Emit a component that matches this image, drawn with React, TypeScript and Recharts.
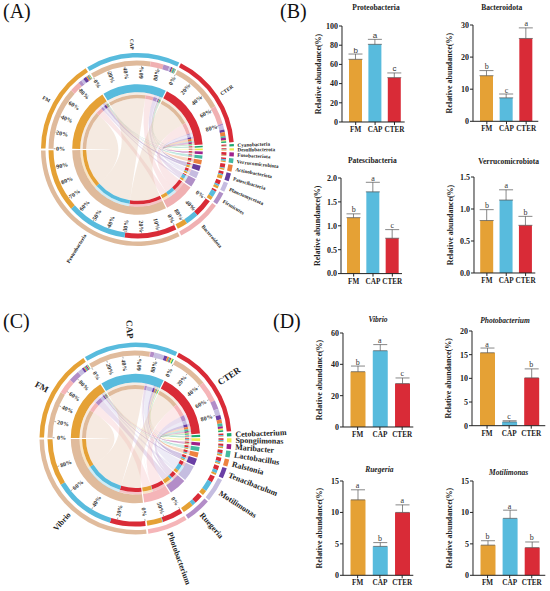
import { Bar, Cell, ComposedChart, ErrorBar, LabelList, Line, Pie, PieChart, XAxis, YAxis } from "recharts";

const SERIF = "'Liberation Serif', serif";
const SANS = "'Liberation Sans', sans-serif";

// ---- bar panels ----
const GROUPS = ["FM", "CAP", "CTER"];
const GROUP_COLORS = ["#e5a135", "#58bbdd", "#d92b37"];

const proteoValues = [65.3, 80.9, 46.2];
const proteoErrors = [5.5, 5.2, 4.9];
const proteoLetters = ["b", "a", "c"];
const bacteroValues = [14.2, 7.3, 25.8];
const bacteroErrors = [1.6, 1.2, 3.3];
const bacteroLetters = ["b", "c", "a"];
const patesciValues = [1.17, 1.71, 0.74];
const patesciErrors = [0.08, 0.2, 0.18];
const patesciLetters = ["b", "a", "c"];
const verrucoValues = [0.82, 1.14, 0.745];
const verrucoErrors = [0.17, 0.16, 0.14];
const verrucoLetters = ["b", "a", "b"];
const vibrioValues = [35.3, 48.7, 27.7];
const vibrioErrors = [3.6, 3.9, 3.6];
const vibrioLetters = ["b", "a", "c"];
const photoValues = [15.4, 0.8, 10.1];
const photoErrors = [1, 0.25, 1.9];
const photoLetters = ["a", "c", "b"];
const ruegeriaValues = [12, 4.6, 10];
const ruegeriaErrors = [1.6, 0.6, 1.2];
const ruegeriaLetters = ["a", "b", "a"];
const motilValues = [4.8, 9.06, 4.4];
const motilErrors = [0.7, 1.3, 0.9];
const motilLetters = ["b", "a", "b"];

const BAR_PANELS = [
  { title: "Proteobacteria", values: proteoValues, errors: proteoErrors, letters: proteoLetters, letterFont: SANS, ticks: [0, 20, 40, 60, 80, 100], axisX: 342.3, y0: 121.7, yTop: 25.7, xEnd: 405, pad: [4, 0.5], bar: 13, titleX: 376, titleY: 8 },
  { title: "Bacteroidota", values: bacteroValues, errors: bacteroErrors, letters: bacteroLetters, ticks: [0, 10, 20, 30], axisX: 472.7, y0: 121, yTop: 24.7, xEnd: 538, pad: [4, 2.3], bar: 13, titleX: 501.7, titleY: 8 },
  { title: "Patescibacteria", values: patesciValues, errors: patesciErrors, letters: patesciLetters, ticks: [0, 0.5, 1, 1.5, 2], fixed: 1, axisX: 340.7, y0: 273.3, yTop: 177.7, xEnd: 401.7, pad: [3, 0], bar: 13, titleX: 372.3, titleY: 161 },
  { title: "Verrucomicrobiota", values: verrucoValues, errors: verrucoErrors, letters: verrucoLetters, ticks: [0, 0.5, 1, 1.5], fixed: 1, axisX: 473.7, y0: 273.3, yTop: 177.3, xEnd: 535, pad: [3.2, 0], bar: 13, titleX: 508.7, titleY: 162 },
  { title: "Vibrio", italic: true, values: vibrioValues, errors: vibrioErrors, letters: vibrioLetters, ticks: [0, 20, 40, 60], axisX: 342.7, y0: 426.7, yTop: 332.7, xEnd: 413, pad: [3.5, 0], bar: 15, titleX: 378, titleY: 320 },
  { title: "Photobacterium", italic: true, values: photoValues, errors: photoErrors, letters: photoLetters, ticks: [0, 5, 10, 15, 20], axisX: 471.7, y0: 426, yTop: 331.3, xEnd: 545, pad: [4, 3], bar: 15, titleX: 505, titleY: 321 },
  { title: "Ruegeria", italic: true, values: ruegeriaValues, errors: ruegeriaErrors, letters: ruegeriaLetters, ticks: [0, 5, 10, 15], axisX: 342.7, y0: 575, yTop: 480.7, xEnd: 413, pad: [3.5, 0], bar: 15, titleX: 379.3, titleY: 469.7 },
  { title: "Motilimonas", italic: true, values: motilValues, errors: motilErrors, letters: motilLetters, ticks: [0, 5, 10, 15], axisX: 472.7, y0: 575, yTop: 480.7, xEnd: 545, pad: [3.5, 2.5], bar: 15, titleX: 508.7, titleY: 472.7 },
];

// ---- chord panels: rows are FM, CAP, CTER, columns follow the item names ----
const phylaNames = ["Proteobacteria", "Bacteroidota", "Firmicutes", "Planctomycetota", "Patescibacteria", "Actinobacteriota", "Verrucomicrobiota", "Fusobacteriota", "Desulfobacterota", "Cyanobacteria"];
const phylaColors = ["#dfba9b", "#f0b0b2", "#b08fc7", "#c5bbe0", "#653d9e", "#ea7f3e", "#43b89f", "#a0228d", "#efe94d", "#1fa870"];
const phylaFM = [72, 12, 4, 3, 4, 1.5, 1.2, 0.7, 0.8, 0.5];
const phylaCAP = [70, 15, 7, 2, 1.5, 1, 2, 0.5, 0.5, 0.5];
const phylaCTER = [60, 21, 2, 5, 3, 4.5, 1.8, 3.1, 1.2, 1.5];
const phylaSteps: Record<string, number> = { FM: 20, CAP: 20, CTER: 20, Proteobacteria: 10, Bacteroidota: 40 };

const generaNames = ["Vibrio", "Photobacterium", "Ruegeria", "Motilimonas", "Tenacibaculum", "Ralstonia", "Lactobacillus", "Maribacter", "Spongiimonas", "Cetobacterium"];
const generaColors = ["#e0bb9c", "#f5b5b8", "#b38dc8", "#c5bde0", "#6a3fa5", "#ee8240", "#45bba0", "#a02088", "#f0ec50", "#1aa870"];
const generaFM = [37, 12, 8.6, 4, 1.6, 0.8, 1.2, 1, 0.5, 0.4];
const generaCAP = [49, 0.5, 3, 8, 2.5, 1.5, 1, 0.8, 1.2, 0.8];
const generaCTER = [28, 16.5, 7, 5, 3.5, 3, 2.5, 1.7, 1.3, 1.2];
const generaSteps: Record<string, number> = { FM: 20, CAP: 20, CTER: 20, Vibrio: 20, Photobacterium: 50 };

const polar = (cx: number, cy: number, r: number, deg: number) => ({
  x: cx + r * Math.cos((deg * Math.PI) / 180),
  y: cy - r * Math.sin((deg * Math.PI) / 180),
});

// text along the radius, flipped on the left side so it never reads upside down
const facing = (deg: number) => (Math.cos((deg * Math.PI) / 180) < 0 ? 180 - deg : -deg);

function buildChord(rows: number[][], names: string[], colors: string[], gap: number) {
  const total = rows.flat().reduce((s, v) => s + v, 0) * 2;
  const deg = (360 - gap * (GROUPS.length + names.length)) / total;
  const gapValue = gap / deg;
  let angle = 180 - gap / 2;
  const sectors: any[] = [];
  const links: any = {};

  const place = (name: string, color: string, segs: { key: string; value: number; color: string }[]) => {
    const start = angle;
    const placed = segs.map((s) => {
      const seg = { ...s, start: angle, end: angle - s.value * deg };
      angle = seg.end;
      return seg;
    });
    sectors.push({ name, color, start, end: angle, segs: placed, value: (start - angle) / deg });
    angle -= gap;
    return placed;
  };

  GROUPS.forEach((g, i) => {
    const placed = place(g, GROUP_COLORS[i], names.map((n, j) => ({ key: n, value: rows[i][j], color: colors[j] })));
    placed.forEach((seg) => (links[`${g}|${seg.key}`] = { from: seg, color: seg.color }));
  });
  [...names].reverse().forEach((n) => {
    const j = names.indexOf(n);
    const order = [2, 1, 0];
    const placed = place(n, colors[j], order.map((i) => ({ key: GROUPS[i], value: rows[i][j], color: GROUP_COLORS[i] })));
    placed.forEach((seg) => (links[`${seg.key}|${n}`].to = seg));
  });

  const outer = sectors.flatMap((s) => [{ value: s.value, fill: s.color }, { value: gapValue, fill: "transparent" }]);
  const stack = sectors.flatMap((s) => [
    ...s.segs.map((seg: any) => ({ value: seg.value, fill: seg.color })),
    { value: gapValue, fill: "transparent" },
  ]);
  return { sectors, links: Object.values(links) as any[], outer, stack, startAngle: 180 - gap / 2 };
}

function Ring({ data, inner, outer, cx, cy, start, opacity }: any) {
  return (
    <Pie
      data={data}
      dataKey="value"
      cx={cx}
      cy={cy}
      innerRadius={inner}
      outerRadius={outer}
      startAngle={start}
      endAngle={start - 360}
      stroke="none"
      isAnimationActive={false}
      fillOpacity={opacity ?? 1}
    >
      {data.map((d: any, i: number) => (
        <Cell key={i} fill={d.fill} />
      ))}
    </Pie>
  );
}

function Ribbons({ links, cx, cy, r }: any) {
  return (
    <g>
      {links.map((l: any, i: number) => {
        const a1 = polar(cx, cy, r, l.from.start);
        const a2 = polar(cx, cy, r, l.from.end);
        const b1 = polar(cx, cy, r, l.to.start);
        const b2 = polar(cx, cy, r, l.to.end);
        const d =
          `M${a1.x} ${a1.y}A${r} ${r} 0 0 1 ${a2.x} ${a2.y}Q${cx} ${cy} ${b1.x} ${b1.y}` +
          `A${r} ${r} 0 0 1 ${b2.x} ${b2.y}Q${cx} ${cy} ${a1.x} ${a1.y}Z`;
        return <path key={i} d={d} fill={l.color} fillOpacity={0.3} />;
      })}
    </g>
  );
}

function ChordLabels({ sectors, steps, cx, cy, nameSize, groupSize, tickSize, tickR, tickTop }: any) {
  return (
    <g fontFamily={SERIF} fontWeight="bold">
      {sectors.map((s: any) => {
        const mid = (s.start + s.end) / 2;
        const left = Math.cos((mid * Math.PI) / 180) < 0;
        const p = polar(cx, cy, 100, mid);
        const step = steps[s.name];
        const marks: number[] = [];
        if (step) for (let k = 0; k < 100; k += step) marks.push(k);
        return (
          <g key={s.name}>
            <text
              x={p.x}
              y={p.y}
              fontSize={GROUPS.includes(s.name) ? groupSize : nameSize}
              fill="#222"
              textAnchor={left ? "end" : "start"}
              dominantBaseline="central"
              transform={`rotate(${facing(mid)} ${p.x} ${p.y})`}
            >
              {s.name}
            </text>
            {marks.map((k) => {
              const a = s.start - (k / 100) * (s.start - s.end);
              const t = polar(cx, cy, tickR, a);
              const m1 = polar(cx, cy, tickTop - 2, a);
              const m2 = polar(cx, cy, tickTop, a);
              return (
                <g key={k}>
                  <line x1={m1.x} y1={m1.y} x2={m2.x} y2={m2.y} stroke="#555" strokeWidth={0.5} />
                  <text
                    x={t.x}
                    y={t.y}
                    fontSize={tickSize}
                    fill="#333"
                    textAnchor="middle"
                    dominantBaseline="central"
                    transform={`rotate(${facing(a)} ${t.x} ${t.y})`}
                  >
                    {k}%
                  </text>
                </g>
              );
            })}
          </g>
        );
      })}
    </g>
  );
}

function Chord({ top, height, cx, cy, rows, names, colors, steps, radii, nameSize, groupSize, tickSize, tickR }: any) {
  const c = buildChord(rows, names, colors, 1.1);
  return (
    <div style={{ position: "absolute", left: 0, top }}>
      <PieChart width={290} height={height} margin={{ top: 0, right: 0, bottom: 0, left: 0 }}>
        <Ribbons links={c.links} cx={cx} cy={cy} r={radii[6]} />
        {Ring({ data: c.outer, inner: radii[1], outer: radii[0], cx, cy, start: c.startAngle })}
        {Ring({ data: c.stack, inner: radii[3], outer: radii[2], cx, cy, start: c.startAngle })}
        {Ring({ data: c.outer, inner: radii[5], outer: radii[4], cx, cy, start: c.startAngle })}
        {Ring({ data: c.stack, inner: radii[5] - 2.5, outer: radii[5], cx, cy, start: c.startAngle, opacity: 0.28 })}
        {Ring({ data: c.stack, inner: radii[6], outer: radii[5] - 2.5, cx, cy, start: c.startAngle })}
        <ChordLabels sectors={c.sectors} steps={steps} cx={cx} cy={cy} nameSize={nameSize} groupSize={groupSize} tickSize={tickSize} tickR={tickR} tickTop={radii[3]} />
      </PieChart>
    </div>
  );
}

function BarPanel({ p }: any) {
  const left = 40;
  const top = 10;
  const bottom = 22;
  const data = GROUPS.map((g, i) => ({
    name: g,
    value: p.values[i],
    err: [0, p.errors[i]],
    top: p.values[i] + p.errors[i],
    letter: p.letters[i],
    color: GROUP_COLORS[i],
  }));
  const tickStyle = { fontFamily: SERIF, fontWeight: "bold", fill: "#222" };
  return (
    <>
      <div
        style={{
          position: "absolute",
          left: p.titleX - 60,
          top: p.titleY - 6,
          width: 120,
          textAlign: "center",
          fontFamily: SERIF,
          fontWeight: "bold",
          fontStyle: p.italic ? "italic" : "normal",
          fontSize: 7.5,
          lineHeight: "12px",
          color: "#222",
        }}
      >
        {p.title}
      </div>
      <div style={{ position: "absolute", left: p.axisX - left, top: p.yTop - top }}>
        <ComposedChart
          width={p.xEnd - p.axisX + left + 1}
          height={p.y0 - p.yTop + top + bottom}
          data={data}
          margin={{ top, right: 1, bottom: 0, left: 0 }}
          barCategoryGap={0}
        >
          <XAxis
            dataKey="name"
            height={bottom}
            interval={0}
            padding={{ left: p.pad[0], right: p.pad[1] }}
            tick={{ ...tickStyle, fontSize: 7.2 }}
            tickSize={3}
            tickMargin={2}
            stroke="#222"
          />
          <YAxis
            width={left}
            type="number"
            domain={[p.ticks[0], p.ticks[p.ticks.length - 1]]}
            ticks={p.ticks}
            interval={0}
            tick={{ ...tickStyle, fontSize: 8 }}
            tickSize={3}
            tickMargin={1}
            tickFormatter={(v: number) => (p.fixed ? v.toFixed(p.fixed) : String(v))}
            stroke="#222"
            label={{
              value: "Relative abundance(%)",
              angle: -90,
              position: "insideLeft",
              offset: 16,
              style: { textAnchor: "middle", fontFamily: SERIF, fontWeight: "bold", fontSize: 8, fill: "#222" },
            }}
          />
          <Bar dataKey="value" barSize={p.bar} isAnimationActive={false}>
            {data.map((d) => (
              <Cell key={d.name} fill={d.color} />
            ))}
            <ErrorBar dataKey="err" direction="y" width={7} stroke="#555" strokeWidth={0.7} isAnimationActive={false} />
          </Bar>
          <Line dataKey="top" stroke="none" dot={false} isAnimationActive={false}>
            <LabelList dataKey="letter" position="top" offset={1.5} fontSize={8} fontFamily={p.letterFont ?? SERIF} fill="#333" />
          </Line>
        </ComposedChart>
      </div>
    </>
  );
}

const PANEL_TAGS = [
  { text: "(A)", x: 3, y: 18 },
  { text: "(B)", x: 280, y: 18 },
  { text: "(C)", x: 3, y: 328 },
  { text: "(D)", x: 273, y: 328 },
];

export default function App() {
  return (
    <div style={{ position: "absolute", left: 0, top: 0, width: 550, height: 591, background: "#fff", overflow: "hidden" }}>
      <Chord
        top={0}
        height={295}
        cx={137.5}
        cy={149.5}
        rows={[phylaFM, phylaCAP, phylaCTER]}
        names={phylaNames}
        colors={phylaColors}
        steps={phylaSteps}
        radii={[96.5, 92, 89, 84, 65.3, 57.3, 51.3]}
        nameSize={5.2}
        groupSize={5.2}
        tickSize={6}
        tickR={77}
      />
      <Chord
        top={295}
        height={296}
        cx={135.5}
        cy={143.5}
        rows={[generaFM, generaCAP, generaCTER]}
        names={generaNames}
        colors={generaColors}
        steps={generaSteps}
        radii={[96, 91.5, 88, 83, 64.7, 56, 49.5]}
        nameSize={8}
        groupSize={9}
        tickSize={6}
        tickR={74}
      />
      {BAR_PANELS.map((p) => (
        <BarPanel key={p.title} p={p} />
      ))}
      {PANEL_TAGS.map((t) => (
        <div key={t.text} style={{ position: "absolute", left: t.x, top: t.y - 18, fontFamily: SERIF, fontSize: 20, lineHeight: "23px", color: "#111" }}>
          {t.text}
        </div>
      ))}
    </div>
  );
}
